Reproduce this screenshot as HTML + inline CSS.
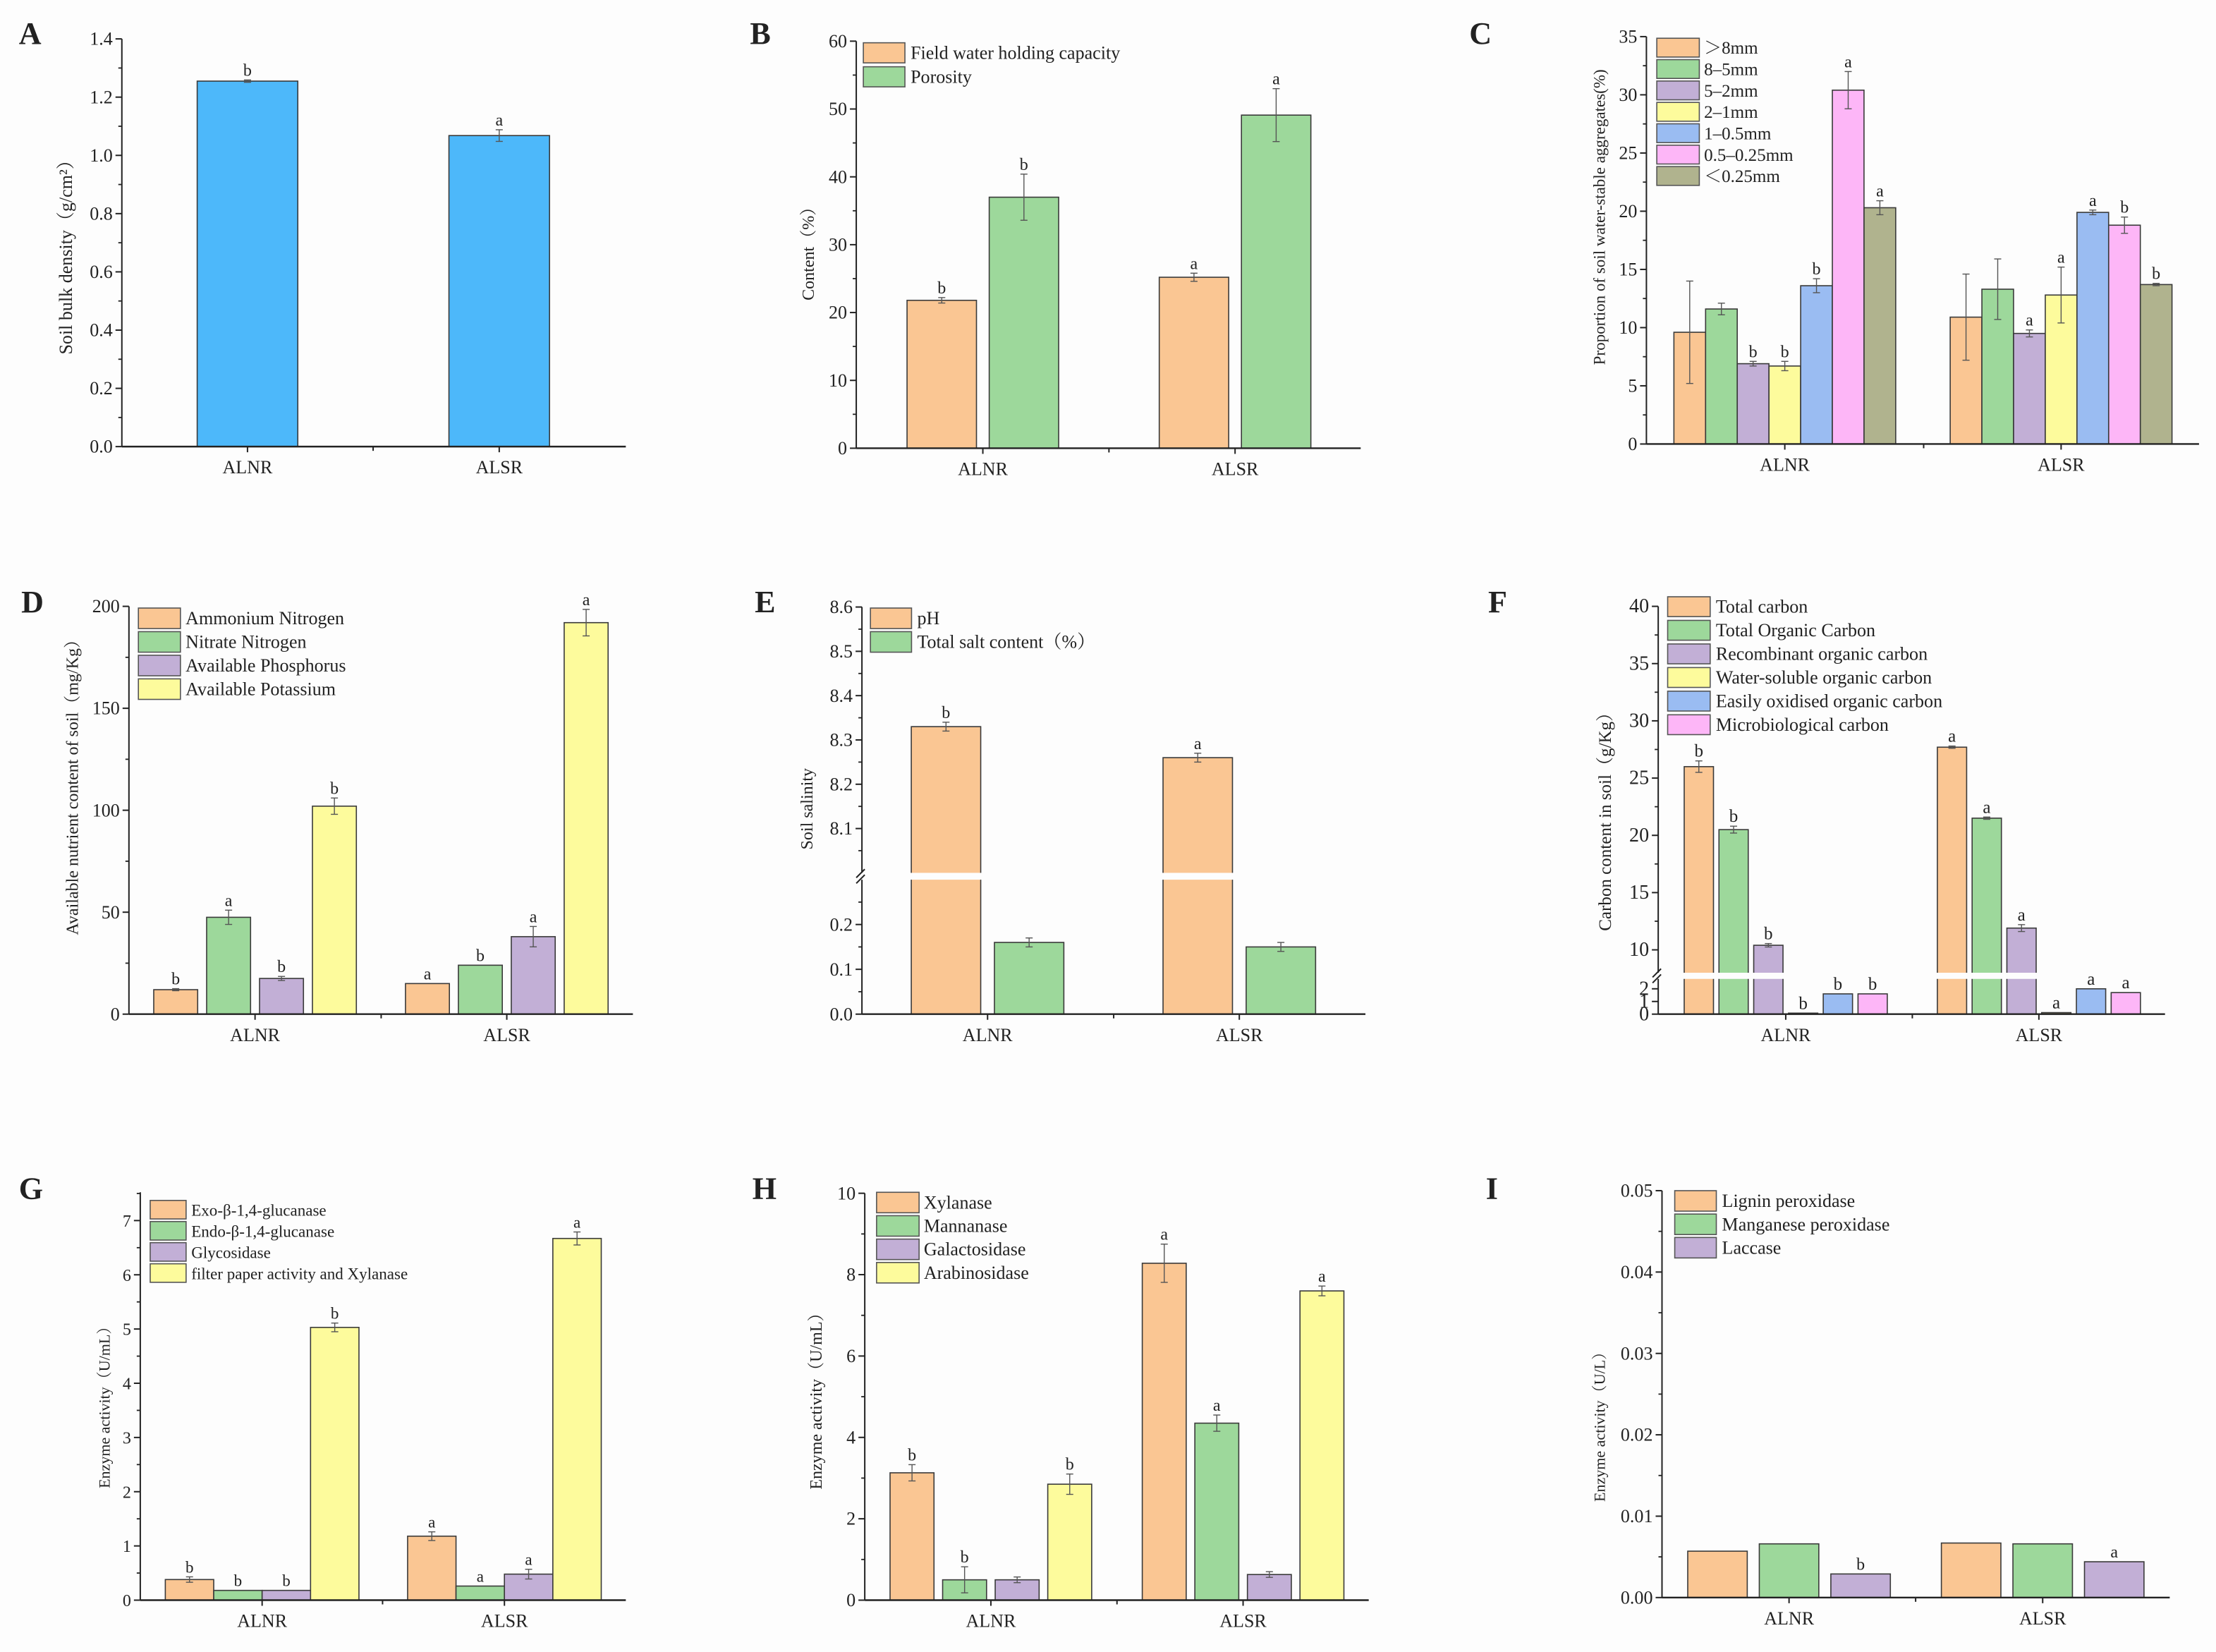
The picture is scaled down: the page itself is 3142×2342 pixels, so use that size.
<!DOCTYPE html>
<html><head><meta charset="utf-8">
<style>
html,body{margin:0;padding:0;background:#fff;}
svg{display:block;}
text{font-family:"Liberation Serif","Noto Serif CJK SC","Noto Sans CJK SC",serif;fill:#222;}
</style></head>
<body>
<svg id="fig" xmlns="http://www.w3.org/2000/svg" width="3142" height="2342" viewBox="0 0 1568 1169" preserveAspectRatio="none">
<rect x="0" y="0" width="1568" height="1169" fill="#fdfdfd"/>
</svg>
<script>
// ---------- data ----------
const categories = ['ALNR','ALSR'];

const aNames = ['Soil bulk density'];
const aDensity = [1.255, 1.068];
const aDensityErr = [0.004, 0.02];
const aDensitySig = ['b','a'];

const bNames = ['Field water holding capacity','Porosity'];
const bFwhc = [21.8, 25.2];
const bPorosity = [37.0, 49.1];
const bFwhcErr = [0.4, 0.6];
const bPorosityErr = [3.4, 3.9];
const bFwhcSig = ['b','a'];
const bPorositySig = ['b','a'];

const cNames = ['＞8mm','8–5mm','5–2mm','2–1mm','1–0.5mm','0.5–0.25mm','＜0.25mm'];
const cALNR = [9.6, 11.6, 6.9, 6.7, 13.6, 30.4, 20.3];
const cALSR = [10.9, 13.3, 9.5, 12.8, 19.9, 18.8, 13.7];
const cALNRErr = [4.4, 0.5, 0.2, 0.4, 0.6, 1.6, 0.6];
const cALSRErr = [3.7, 2.6, 0.3, 2.4, 0.2, 0.7, 0.1];
const cALNRSig = ['','','b','b','b','a','a'];
const cALSRSig = ['','','a','a','a','b','b'];

const dNames = ['Ammonium Nitrogen','Nitrate Nitrogen','Available Phosphorus','Available Potassium'];
const dALNR = [12, 47.5, 17.5, 102];
const dALSR = [15, 24, 38, 192];
const dALNRErr = [0.5, 3.5, 1, 4];
const dALSRErr = [0, 0, 5, 6.5];
const dALNRSig = ['b','a','b','b'];
const dALSRSig = ['a','b','a','a'];

const eNames = ['pH','Total salt content（%）'];
const ePH = [8.33, 8.26];
const eSalt = [0.16, 0.15];
const ePHErr = [0.01, 0.01];
const eSaltErr = [0.01, 0.01];
const ePHSig = ['b','a'];
const eSaltSig = ['',''];

const fNames = ['Total carbon','Total Organic Carbon','Recombinant organic carbon','Water-soluble organic carbon','Easily oxidised organic carbon','Microbiological carbon'];
const fALNR = [26.0, 20.5, 10.4, 0.08, 1.6, 1.6];
const fALSR = [27.7, 21.5, 11.9, 0.12, 2.0, 1.7];
const fALNRErr = [0.5, 0.3, 0.15, 0, 0, 0];
const fALSRErr = [0.1, 0.1, 0.3, 0, 0, 0];
const fALNRSig = ['b','b','b','b','b','b'];
const fALSRSig = ['a','a','a','a','a','a'];

const gNames = ['Exo-β-1,4-glucanase','Endo-β-1,4-glucanase','Glycosidase','filter paper activity and Xylanase'];
const gALNR = [0.38, 0.18, 0.18, 5.03];
const gALSR = [1.18, 0.26, 0.48, 6.67];
const gALNRErr = [0.05, 0, 0, 0.08];
const gALSRErr = [0.08, 0, 0.09, 0.12];
const gALNRSig = ['b','b','b','b'];
const gALSRSig = ['a','a','a','a'];

const hNames = ['Xylanase','Mannanase','Galactosidase','Arabinosidase'];
const hALNR = [3.13, 0.5, 0.5, 2.85];
const hALSR = [8.28, 4.35, 0.63, 7.6];
const hALNRErr = [0.2, 0.32, 0.07, 0.25];
const hALSRErr = [0.47, 0.2, 0.07, 0.12];
const hALNRSig = ['b','b','','b'];
const hALSRSig = ['a','a','','a'];

const iNames = ['Lignin peroxidase','Manganese peroxidase','Laccase'];
const iALNR = [0.0057, 0.0066, 0.0029];
const iALSR = [0.0067, 0.0066, 0.0044];
const iALNRSig = ['','','b'];
const iALSRSig = ['','','a'];

// ---------- helpers ----------
const svg = document.getElementById('fig');
const NS = 'http://www.w3.org/2000/svg';
const COL = {o:'#fac693',g:'#9dd89b',p:'#c2afd6',y:'#fdfb9c',b:'#9abcf2',k:'#fdb6f7',v:'#b0b38e',a:'#4db8fa'};
function mk(tag, attrs, parent){
  const e = document.createElementNS(NS, tag);
  for (const k in attrs) e.setAttribute(k, attrs[k]);
  (parent || svg).appendChild(e);
  return e;
}
function txt(s, attrs, parent){ const t = mk('text', attrs, parent); t.textContent = s; return t; }

function drawPanel(P){
  const g = mk('g', {});
  
  
  const SX = 0.3342;
  const X = z => P.ox + z*SX;
  const Yz = z => P.oy + z*P.sy;
  // value -> zoom y using segments
  function vz(v){
    const segs = P.segs;
    let s = segs[0];
    for (const sg of segs){ if (v >= sg.v0) s = sg; }
    if (v > s.v1 && s === segs[0] && segs.length>1) s = segs[1];
    return s.z0 + (v - s.v0)*(s.z1 - s.z0)/(s.v1 - s.v0);
  }
  const Y = v => Yz(vz(v));
  const y0 = Y(0);
  // panel letter
  const L = txt(P.id, {x:X(P.letter[0]), y:Yz(P.letter[1]), 'font-size':22, 'font-weight':'bold'}, g);
  
  
  // bars
  const n = P.series.length;
  const span = n*P.pitch - (P.pitch - P.bw);
  categories.forEach((cat, c) => {
    const cx = P.cats[c];
    const left0 = cx - span/2;
    P.series.forEach((sr, i) => {
      const v = sr.vals[c];
      const xl = X(left0 + i*P.pitch), xr = X(left0 + i*P.pitch + P.bw);
      const yt = Y(v);
      const r = mk('rect', {x:xl, y:yt, width:xr-xl, height:Math.max(0.6, y0-yt), fill:sr.col, stroke:'#3a3a3a', 'stroke-width':0.8}, g);
      
      
      if (P.gap && v > P.gap.v){
        mk('rect', {x:xl-1, y:Yz(P.gap.z0), width:xr-xl+2, height:Yz(P.gap.z1)-Yz(P.gap.z0), fill:'#fdfdfd'}, g);
      }
      const e = sr.err ? sr.err[c] : 0;
      const xc = (xl+xr)/2;
      let top = yt;
      if (e > 0){
        const yh = Y(v+e), yl = Y(v-e);
        mk('line', {x1:xc, y1:yh, x2:xc, y2:yl, stroke:'#555', 'stroke-width':0.7}, g);
        mk('line', {x1:xc-2.5, y1:yh, x2:xc+2.5, y2:yh, stroke:'#555', 'stroke-width':0.7}, g);
        mk('line', {x1:xc-2.5, y1:yl, x2:xc+2.5, y2:yl, stroke:'#555', 'stroke-width':0.7}, g);
        top = yh;
      }
      const s = sr.sig ? sr.sig[c] : '';
      if (s){
        const t = txt(s, {x:xc, y:top-3, 'font-size':P.sigFs || 12, 'text-anchor':'middle'}, g);
        
        
      }
    });
  });
  // axes
  const ax = X(P.axis), axR = X(P.right);
  const yTop = Yz(P.top);
  if (P.gap){
    mk('line', {x1:ax, y1:y0, x2:ax, y2:Yz(P.gap.z1), stroke:'#222', 'stroke-width':1}, g);
    mk('line', {x1:ax, y1:Yz(P.gap.z0), x2:ax, y2:yTop, stroke:'#222', 'stroke-width':1}, g);
    const ym = (Yz(P.gap.z0)+Yz(P.gap.z1))/2;
    mk('line', {x1:ax-4, y1:ym+1, x2:ax+2, y2:ym-5, stroke:'#222', 'stroke-width':1}, g);
    mk('line', {x1:ax-4, y1:ym+5, x2:ax+2, y2:ym-1, stroke:'#222', 'stroke-width':1}, g);
  } else {
    mk('line', {x1:ax, y1:y0, x2:ax, y2:yTop, stroke:'#222', 'stroke-width':1}, g);
  }
  const xa = mk('line', {x1:ax, y1:y0, x2:axR, y2:y0, stroke:'#222', 'stroke-width':1.2}, g);
  
  
  P.major.forEach(([v, lab]) => {
    const y = Y(v);
    mk('line', {x1:ax-4.5, y1:y, x2:ax, y2:y, stroke:'#222', 'stroke-width':1}, g);
    if (lab !== ''){
      const t = txt(lab, {x:ax-6.5, y:y+4.3, 'font-size':P.tickFs || 13, 'text-anchor':'end'}, g);
      
      
    }
  });
  P.minor.forEach(v => {
    const y = Y(v);
    mk('line', {x1:ax-2.5, y1:y, x2:ax, y2:y, stroke:'#222', 'stroke-width':0.9}, g);
  });
  categories.forEach((cat, c) => {
    const x = X(P.cats[c]);
    mk('line', {x1:x, y1:y0, x2:x, y2:y0+4, stroke:'#222', 'stroke-width':1}, g);
    const t = txt(cat, {x:x, y:y0+19, 'font-size':13, 'text-anchor':'middle'}, g);
    
    
  });
  mk('line', {x1:X(P.mid), y1:y0, x2:X(P.mid), y2:y0+3, stroke:'#222', 'stroke-width':1}, g);
  // y title
  const tx = X(P.yt[0]), ty = Yz(P.yt[1]);
  const yt = txt(P.ytitle, {x:tx, y:ty, 'font-size':P.ytFs || 12, 'text-anchor':'middle', transform:'rotate(-90 '+tx+' '+ty+')'}, g);
  
  
  // legend
  if (P.leg){
    P.series.forEach((sr, i) => {
      const lg = mk('g', {}, g);
      
      
      const z0 = P.leg.y + i*P.leg.step;
      mk('rect', {x:X(P.leg.x0), y:Yz(z0), width:X(P.leg.x1)-X(P.leg.x0), height:Yz(z0+P.leg.h)-Yz(z0), fill:sr.col, stroke:'#555', 'stroke-width':0.8}, lg);
      txt(sr.name, {x:X(P.leg.tx), y:Yz(z0+P.leg.h/2)+4.3, 'font-size':P.leg.fs}, lg);
    });
  }
}

const R1 = 0, R2 = 389.6, R3 = 809.2;
const S1 = 359.6/1568, S2 = 379.6/1568, S3 = 360.6/1568;

function rng(a, b, s){ const out=[]; for (let v=a; v<=b+1e-9; v+=s) out.push(+v.toFixed(6)); return out; }

// Panel A
drawPanel({id:'A', ox:0, oy:R1, sy:S1, letter:[40,135], axis:258, right:1325, top:120,
  segs:[{v0:0,v1:1.4,z0:1378,z1:120}], cats:[524,1057], mid:790, bw:213, pitch:213,
  series:[{name:aNames[0], vals:aDensity, err:aDensityErr, sig:aDensitySig, col:COL.a}],
  major:rng(0,1.4,0.2).map(v=>[v,v.toFixed(1)]), minor:rng(0.1,1.3,0.2),
  yt:[152,780], ytitle:'Soil bulk density（g/cm²）', ytFs:13});

// Panel B
drawPanel({id:'B', ox:524, oy:R1, sy:S1, letter:[20,135], axis:245, right:1313, top:127,
  segs:[{v0:0,v1:60,z0:1383,z1:127}], cats:[513,1047], mid:780, bw:147, pitch:174,
  series:[{name:bNames[0], vals:bFwhc, err:bFwhcErr, sig:bFwhcSig, col:COL.o},
          {name:bNames[1], vals:bPorosity, err:bPorosityErr, sig:bPorositySig, col:COL.g}],
  major:rng(0,60,10).map(v=>[v,String(v)]), minor:rng(5,55,10),
  yt:[155,770], ytitle:'Content（%）',
  leg:{x0:260,x1:348,y:132,h:62,step:74,tx:360,fs:13}});

// Panel C
drawPanel({id:'C', ox:1048, oy:R1, sy:S1, letter:[-25,135], axis:350, right:1520, top:113,
  segs:[{v0:0,v1:35,z0:1370,z1:113}], cats:[643,1228], mid:937, bw:67, pitch:67.1,
  series:cNames.map((nm,i)=>({name:nm, vals:[cALNR[i],cALSR[i]], err:[cALNRErr[i],cALSRErr[i]], sig:[cALNRSig[i],cALSRSig[i]], col:[COL.o,COL.g,COL.p,COL.y,COL.b,COL.k,COL.v][i]})),
  major:rng(0,35,5).map(v=>[v,String(v)]), minor:rng(2.5,32.5,5),
  yt:[262,670], ytitle:'Proportion of soil water-stable aggregates(%)', ytFs:11.5,
  leg:{x0:372,x1:462,y:118,h:58,step:66,tx:472,fs:12.5}});

// Panel D
drawPanel({id:'D', ox:0, oy:R2, sy:S2, letter:[45,180], axis:273, right:1340, top:163,
  segs:[{v0:0,v1:200,z0:1355,z1:163}], cats:[540,1073], mid:807, bw:93, pitch:112,
  series:dNames.map((nm,i)=>({name:nm, vals:[dALNR[i],dALSR[i]], err:[dALNRErr[i],dALSRErr[i]], sig:[dALNRSig[i],dALSRSig[i]], col:[COL.o,COL.g,COL.p,COL.y][i]})),
  major:rng(0,200,50).map(v=>[v,String(v)]), minor:rng(25,175,50),
  yt:[165,680], ytitle:'Available nutrient content of soil（mg/Kg）', ytFs:12,
  leg:{x0:293,x1:382,y:168,h:60,step:69,tx:393,fs:13}});

// Panel E (broken axis)
drawPanel({id:'E', ox:524, oy:R2, sy:S2, letter:[30,180], axis:257, right:1323, top:165,
  segs:[{v0:0,v1:0.3,z0:1355,z1:962},{v0:8.0,v1:8.6,z0:942,z1:165}], gap:{v:0.3,z0:942,z1:962},
  cats:[523,1056], mid:790, bw:147, pitch:176,
  series:[{name:eNames[0], vals:ePH, err:ePHErr, sig:ePHSig, col:COL.o},
          {name:eNames[1], vals:eSalt, err:eSaltErr, sig:eSaltSig, col:COL.g}],
  major:[[0,'0.0'],[0.1,'0.1'],[0.2,'0.2'],[8.1,'8.1'],[8.2,'8.2'],[8.3,'8.3'],[8.4,'8.4'],[8.5,'8.5'],[8.6,'8.6']],
  minor:[0.05,0.15,0.25,8.05,8.15,8.25,8.35,8.45,8.55],
  yt:[152,755], ytitle:'Soil salinity',
  leg:{x0:275,x1:362,y:168,h:60,step:69,tx:374,fs:13}});

// Panel F (broken axis)
drawPanel({id:'F', ox:1048, oy:R2, sy:S2, letter:[15,180], axis:375, right:1448, top:163,
  segs:[{v0:0,v1:2.7,z0:1355,z1:1255},{v0:8,v1:40,z0:1234,z1:163}], gap:{v:2.7,z0:1234,z1:1252},
  cats:[645,1181], mid:913, bw:62, pitch:73.6, sigFs:12.5,
  series:fNames.map((nm,i)=>({name:nm, vals:[fALNR[i],fALSR[i]], err:[fALNRErr[i],fALSRErr[i]], sig:[fALNRSig[i],fALSRSig[i]], col:[COL.o,COL.g,COL.p,COL.y,COL.b,COL.k][i]})),
  major:[[0,'0'],[1,'1'],[2,'2'],[10,'10'],[15,'15'],[20,'20'],[25,'25'],[30,'30'],[35,'35'],[40,'40']],
  minor:[12.5,17.5,22.5,27.5,32.5,37.5],
  yt:[275,780], ytitle:'Carbon content in soil（g/Kg）', ytFs:12.5, tickFs:14,
  leg:{x0:395,x1:485,y:135,h:58,step:69,tx:497,fs:13}});

// Panel G
drawPanel({id:'G', ox:0, oy:R3, sy:S3, letter:[40,170], axis:297, right:1325, top:150,
  segs:[{v0:0,v1:7,z0:1405,z1:237}], cats:[555,1068], mid:810, bw:102.5, pitch:102.5, sigFs:11.5,
  series:gNames.map((nm,i)=>({name:nm, vals:[gALNR[i],gALSR[i]], err:[gALNRErr[i],gALSRErr[i]], sig:[gALNRSig[i],gALSRSig[i]], col:[COL.o,COL.g,COL.p,COL.y][i]})),
  major:rng(0,7,1).map(v=>[v,String(v)]), minor:rng(0.5,7.5,1),
  yt:[232,800], ytitle:'Enzyme activity（U/mL）', ytFs:11, tickFs:12,
  leg:{x0:318,x1:394,y:175,h:57,step:65,tx:405,fs:11.5}});

// Panel H
drawPanel({id:'H', ox:524, oy:R3, sy:S3, letter:[25,170], axis:263, right:1330, top:153,
  segs:[{v0:0,v1:10,z0:1405,z1:153}], cats:[530,1064], mid:797, bw:93, pitch:111.3,
  series:hNames.map((nm,i)=>({name:nm, vals:[hALNR[i],hALSR[i]], err:[hALNRErr[i],hALSRErr[i]], sig:[hALNRSig[i],hALSRSig[i]], col:[COL.o,COL.g,COL.p,COL.y][i]})),
  major:rng(0,10,2).map(v=>[v,String(v)]), minor:rng(1,9,2),
  yt:[172,780], ytitle:'Enzyme activity（U/mL）',
  leg:{x0:288,x1:378,y:150,h:63,step:72,tx:388,fs:13}});

// Panel I
drawPanel({id:'I', ox:1048, oy:R3, sy:S3, letter:[10,170], axis:383, right:1458, top:145,
  segs:[{v0:0,v1:0.05,z0:1397,z1:145}], cats:[652,1189], mid:920, bw:126, pitch:151.5,
  series:iNames.map((nm,i)=>({name:nm, vals:[iALNR[i],iALSR[i]], err:[0,0], sig:[iALNRSig[i],iALSRSig[i]], col:[COL.o,COL.g,COL.p][i]})),
  major:rng(0,0.05,0.01).map(v=>[v,v.toFixed(2)]), minor:rng(0.005,0.045,0.01),
  yt:[262,860], ytitle:'Enzyme activity（U/L）', ytFs:11,
  leg:{x0:410,x1:498,y:145,h:63,step:72,tx:510,fs:13}});
</script>
</body></html>
